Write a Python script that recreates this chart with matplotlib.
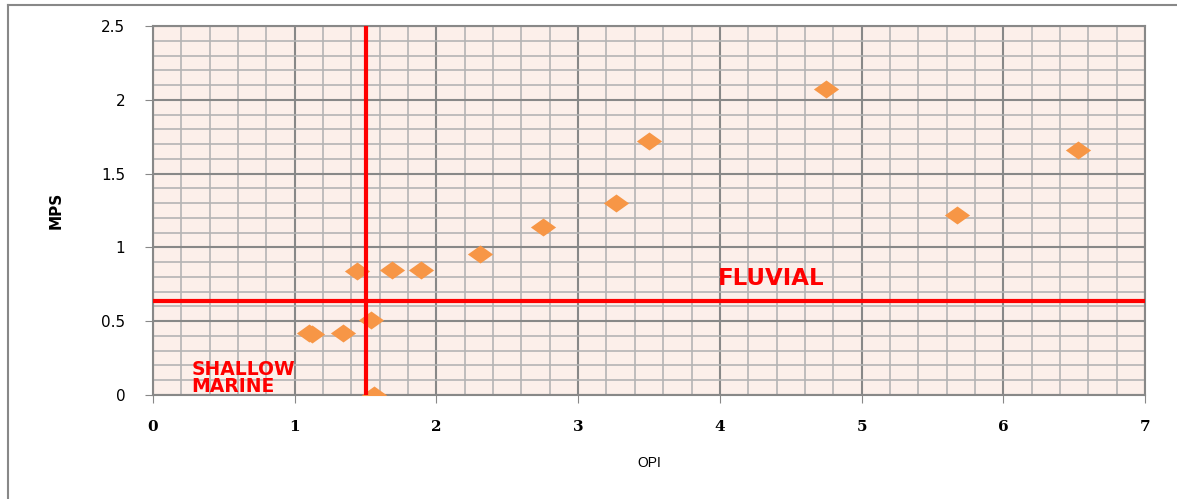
import numpy as np
import matplotlib
matplotlib.use('Agg')
import matplotlib.pyplot as plt
from matplotlib.lines import Line2D

# OPI / MPS values
opi = [1.12, 1.10, 1.34, 1.54, 1.44, 1.69, 1.89, 1.56, 2.31, 2.75, 3.27, 3.50, 4.75, 5.67, 6.53]
mps = [0.41, 0.42, 0.42, 0.51, 0.84, 0.85, 0.85, 0.00, 0.955, 1.14, 1.30, 1.72, 2.07, 1.22, 1.66]

# boundary lines
opi_limit = 1.5
mps_limit = 0.64

x_ticks = [0, 1, 2, 3, 4, 5, 6, 7]
y_ticks = [0, 0.5, 1, 1.5, 2, 2.5]
y_tick_labels = ['0', '0.5', '1', '1.5', '2', '2.5']

fig = plt.figure(figsize=(11.77, 4.99), dpi=100)
ax = fig.add_axes([153 / 1177, 1 - 395 / 499, 992 / 1177, 369 / 499])
ax.set_facecolor('#FCEFEA')

# flat diamond marker like the excel one
diamond = [(-1.4, 0), (0, 1), (1.4, 0), (0, -1), (-1.4, 0)]
ax.scatter(opi, mps, marker=diamond, s=330, color='#F79646', zorder=4, linewidths=0)

ax.axvline(opi_limit, ymin=0, ymax=1, color='red', linewidth=3, zorder=5)
ax.axhline(mps_limit, color='red', linewidth=3, zorder=5)

ax.text(4.36, 0.79, 'FLUVIAL', color='red', fontsize=16.5, fontweight='bold',
        fontfamily='DejaVu Sans', ha='center', va='center')
ax.text(0.27, 0.115, 'SHALLOW\nMARINE', color='red', fontsize=13.5, fontweight='bold',
        fontfamily='DejaVu Sans', ha='left', va='center', linespacing=0.85)

ax.set_xlim(0, 7)
ax.set_ylim(0, 2.5)
ax.set_xticks(x_ticks)
ax.set_xticklabels([str(t) for t in x_ticks], fontfamily='DejaVu Serif', fontweight='bold', fontsize=11)
ax.set_yticks(y_ticks)
ax.set_yticklabels(y_tick_labels, fontsize=11)
ax.set_xticks(np.arange(0, 7.01, 0.2), minor=True)
ax.set_yticks(np.arange(0, 2.51, 0.1), minor=True)
ax.tick_params(axis='x', which='major', length=6, color='#888888', pad=12)
ax.tick_params(axis='y', which='major', length=6, color='#888888', pad=14)
ax.tick_params(which='minor', length=0)

ax.grid(True, which='major', color='#888888', linewidth=1.5, zorder=1)
ax.grid(True, which='minor', color='#B4B4B4', linewidth=1.2, zorder=1)
ax.set_axisbelow(True)
for s in ax.spines.values():
    s.set_color('#888888')
    s.set_linewidth(1.5)

ax.set_xlabel('OPI', fontsize=10, fontfamily='Liberation Sans', labelpad=16)
ax.set_ylabel('MPS', fontsize=11, fontweight='bold', labelpad=27)

# outer chart frame (only left and top visible)
fig.add_artist(Line2D([8 / 1177, 1.0], [1 - 5 / 499, 1 - 5 / 499], color='#888888', linewidth=1.5))
fig.add_artist(Line2D([8 / 1177, 8 / 1177], [0, 1 - 5 / 499], color='#888888', linewidth=1.5))

fig.savefig('out.png', dpi=100)
